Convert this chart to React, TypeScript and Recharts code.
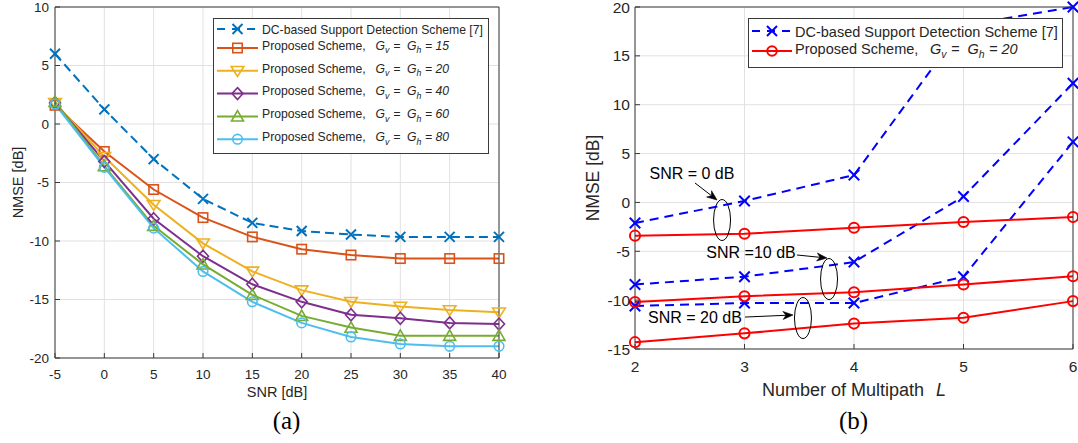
import React from 'react';
import {
  LineChart,
  Line,
  XAxis,
  YAxis,
  CartesianGrid,
  Legend,
  Label,
  ReferenceDot,
  ReferenceLine,
} from 'recharts';

// ---------- Chart (a) data ----------
const snr = [-5, 0, 5, 10, 15, 20, 25, 30, 35, 40];
const dcScheme = [6.0, 1.25, -3.0, -6.4, -8.45, -9.15, -9.45, -9.65, -9.65, -9.65];
const gh15 = [1.6, -2.35, -5.6, -8.0, -9.65, -10.7, -11.2, -11.5, -11.5, -11.5];
const gh20 = [1.8, -2.8, -6.9, -10.2, -12.6, -14.2, -15.2, -15.6, -15.9, -16.1];
const gh40 = [1.8, -3.2, -8.1, -11.3, -13.7, -15.2, -16.3, -16.6, -17.0, -17.1];
const gh60 = [1.9, -3.6, -8.7, -12.0, -14.6, -16.4, -17.4, -18.1, -18.1, -18.1];
const gh80 = [1.7, -3.7, -8.9, -12.6, -15.2, -17.0, -18.2, -18.8, -19.0, -19.0];
const leftYTicks = [-20, -15, -10, -5, 0, 5, 10];

// ---------- Chart (b) data ----------
const multipath = [2, 3, 4, 5, 6];
const dcSnr0 = [-2.1, 0.15, 2.8, 18.1, 20.0];
const dcSnr10 = [-8.4, -7.6, -6.1, 0.6, 12.2];
const dcSnr20 = [-10.6, -10.3, -10.3, -7.6, 6.2];
const propSnr0 = [-3.4, -3.2, -2.6, -2.0, -1.5];
const propSnr10 = [-10.2, -9.6, -9.2, -8.4, -7.55];
const propSnr20 = [-14.3, -13.4, -12.4, -11.8, -10.1];
const rightYTicks = [-15, -10, -5, 0, 5, 10, 15, 20];

// annotations (data coordinates)
const annoLabels = ['SNR = 0 dB', 'SNR =10 dB', 'SNR = 20 dB'];
const annoTextPos = [
  { x: 2.52, y: 2.4 },
  { x: 3.06, y: -5.69 },
  { x: 2.548, y: -12.34 },
];
const annoArrows = [
  [{ x: 2.548, y: 1.99 }, { x: 2.749, y: 0.25 }],
  [{ x: 3.479, y: -5.38 }, { x: 3.753, y: -5.69 }],
  [{ x: 3.005, y: -11.73 }, { x: 3.443, y: -11.52 }],
];
const annoEllipses = [
  { x: 2.795, y: -1.8 },
  { x: 3.772, y: -7.84 },
  { x: 3.534, y: -11.83 },
];

const FONT = '"Liberation Sans", Arial, Helvetica, sans-serif';
const TXT = '#262626';
const GRID = '#e1e1e1';
const AXIS = '#3a3a3a';

type Kind = 'x' | 'square' | 'tdown' | 'diamond' | 'tup' | 'circle';

const Marker = ({ kind, cx, cy, color, sw = 1.6, big = false }: any) => {
  if (cx == null || cy == null) return null;
  const k = big ? 1.05 : 1;
  switch (kind as Kind) {
    case 'x': {
      const s = 5 * k;
      return (
        <g>
          <line x1={cx - s} y1={cy - s} x2={cx + s} y2={cy + s} stroke={color} strokeWidth={2} />
          <line x1={cx - s} y1={cy + s} x2={cx + s} y2={cy - s} stroke={color} strokeWidth={2} />
        </g>
      );
    }
    case 'square':
      return <rect x={cx - 4.7} y={cy - 4.7} width={9.4} height={9.4} fill="none" stroke={color} strokeWidth={sw} />;
    case 'tdown':
      return (
        <polygon
          points={`${cx - 6.3},${cy - 4.3} ${cx + 6.3},${cy - 4.3} ${cx},${cy + 5.6}`}
          fill="none"
          stroke={color}
          strokeWidth={sw}
        />
      );
    case 'tup':
      return (
        <polygon
          points={`${cx - 6},${cy + 4.6} ${cx + 6},${cy + 4.6} ${cx},${cy - 5.8}`}
          fill="none"
          stroke={color}
          strokeWidth={sw}
        />
      );
    case 'diamond':
      return (
        <polygon
          points={`${cx},${cy - 6} ${cx + 5.5},${cy} ${cx},${cy + 6} ${cx - 5.5},${cy}`}
          fill="none"
          stroke={color}
          strokeWidth={sw}
        />
      );
    case 'circle':
    default:
      return <circle cx={cx} cy={cy} r={4.8 * k} fill="none" stroke={color} strokeWidth={sw} />;
  }
};

const makeDot = (kind: Kind, color: string, sw = 1.6, big = false) => (p: any) => (
  <g key={`d-${kind}-${color}-${p.index}`}>
    <Marker kind={kind} cx={p.cx} cy={p.cy} color={color} sw={sw} big={big} />
  </g>
);

// ---------- series config (a) ----------
const leftSeries = [
  { key: 'dc', color: '#0072BD', kind: 'x' as Kind, dash: '9 5', g: '' },
  { key: 'g15', color: '#D95319', kind: 'square' as Kind, dash: undefined, g: '15' },
  { key: 'g20', color: '#EDB120', kind: 'tdown' as Kind, dash: undefined, g: '20' },
  { key: 'g40', color: '#7E2F8E', kind: 'diamond' as Kind, dash: undefined, g: '40' },
  { key: 'g60', color: '#77AC30', kind: 'tup' as Kind, dash: undefined, g: '60' },
  { key: 'g80', color: '#4DBEEE', kind: 'circle' as Kind, dash: undefined, g: '80' },
];

const leftRows = snr.map((s, i) => ({
  snr: s,
  dc: dcScheme[i],
  g15: gh15[i],
  g20: gh20[i],
  g40: gh40[i],
  g60: gh60[i],
  g80: gh80[i],
}));

const rightRows = multipath.map((l, i) => ({
  L: l,
  dc0: dcSnr0[i],
  dc10: dcSnr10[i],
  dc20: dcSnr20[i],
  p0: propSnr0[i],
  p10: propSnr10[i],
  p20: propSnr20[i],
}));

const GhText = ({ x, y, fs, value }: any) => (
  <text x={x} y={y} fontSize={fs} fontFamily={FONT} fill={TXT}>
    Proposed Scheme,
    <tspan dx={fs * 0.8} fontStyle="italic">G</tspan>
    <tspan fontStyle="italic" fontSize={fs * 0.72} dy={fs * 0.3}>v</tspan>
    <tspan fontStyle="italic" dy={-fs * 0.3} dx={fs * 0.32}>=</tspan>
    <tspan fontStyle="italic" dx={fs * 0.55}>G</tspan>
    <tspan fontStyle="italic" fontSize={fs * 0.72} dy={fs * 0.3}>h</tspan>
    <tspan fontStyle="italic" dy={-fs * 0.3} dx={fs * 0.3}>{`= ${value}`}</tspan>
  </text>
);

const LeftLegend = () => {
  const fs = 12.2;
  return (
    <svg width={276} height={136} style={{ display: 'block' }}>
      <rect x={0.5} y={0.5} width={275} height={135} fill="#fff" stroke={AXIS} strokeWidth={1} />
      {leftSeries.map((s, i) => {
        const y = i === 0 ? 11 : 30 + (i - 1) * 22.8;
        return (
          <g key={s.key}>
            <line
              x1={4}
              y1={y}
              x2={45}
              y2={y}
              stroke={s.color}
              strokeWidth={2}
              strokeDasharray={s.dash ? '8 7' : undefined}
            />
            <Marker kind={s.kind} cx={24.5} cy={y} color={s.color} />
            {i === 0 ? (
              <text x={49} y={y + 4.5} fontSize={fs} fontFamily={FONT} fill={TXT}>
                DC-based Support Detection Scheme [7]
              </text>
            ) : (
              <GhText x={49} y={y + 1.8} fs={fs} value={s.g} />
            )}
          </g>
        );
      })}
    </svg>
  );
};

const RightLegend = () => {
  const fs = 14.5;
  return (
    <svg width={315} height={50} style={{ display: 'block' }}>
      <rect x={0.5} y={0.5} width={314} height={49} fill="#fff" stroke={AXIS} strokeWidth={1} />
      <line x1={4} y1={13} x2={44} y2={13} stroke="#0000FF" strokeWidth={2} strokeDasharray="8 7" />
      <Marker kind="x" cx={24} cy={13} color="#0000FF" />
      <text x={47} y={18.5} fontSize={fs} fontFamily={FONT} fill={TXT}>
        DC-based Support Detection Scheme [7]
      </text>
      <line x1={4} y1={33} x2={44} y2={33} stroke="#FF0000" strokeWidth={2} />
      <Marker kind="circle" cx={24} cy={33} color="#FF0000" sw={2} />
      <GhText x={47} y={36} fs={fs} value="20" />
    </svg>
  );
};

const Arrow = (p: any) => {
  const { x1, y1, x2, y2 } = p;
  if ([x1, y1, x2, y2].some((v) => v == null || isNaN(v))) return null;
  const dx = x2 - x1;
  const dy = y2 - y1;
  const len = Math.sqrt(dx * dx + dy * dy) || 1;
  const ux = dx / len;
  const uy = dy / len;
  const hl = 10;
  const hw = 4;
  const bx = x2 - ux * hl;
  const by = y2 - uy * hl;
  const nx = x2 - ux * hl * 0.7;
  const ny = y2 - uy * hl * 0.7;
  return (
    <g>
      <line x1={x1} y1={y1} x2={nx} y2={ny} stroke="#000" strokeWidth={1} />
      <polygon
        points={`${x2},${y2} ${bx - uy * hw},${by + ux * hw} ${nx},${ny} ${bx + uy * hw},${by - ux * hw}`}
        fill="#000"
        stroke="#000"
        strokeWidth={0.6}
      />
    </g>
  );
};

const tickStyle = (fs: number) => ({ fontSize: fs, fill: TXT, fontFamily: FONT });

const ChartA = () => (
  <LineChart
    width={540}
    height={443}
    data={leftRows}
    margin={{ top: 6, right: 40, bottom: 61, left: 0 }}
  >
    <CartesianGrid stroke={GRID} strokeWidth={1} />
    <XAxis
      dataKey="snr"
      type="number"
      domain={[-5, 40]}
      ticks={snr}
      interval={0}
      height={24}
      tickSize={-5}
      tickMargin={16}
      axisLine={{ stroke: AXIS }}
      tickLine={{ stroke: AXIS }}
      tick={tickStyle(13.5)}
    >
      <Label value="SNR [dB]" position="bottom" offset={5} style={{ fontSize: 14.5, fill: TXT, fontFamily: FONT }} />
    </XAxis>
    <XAxis
      xAxisId="top"
      orientation="top"
      dataKey="snr"
      type="number"
      domain={[-5, 40]}
      ticks={snr}
      interval={0}
      height={1}
      tickSize={-5}
      axisLine={{ stroke: AXIS }}
      tickLine={{ stroke: AXIS }}
      tick={false}
    />
    <YAxis
      type="number"
      domain={[-20, 10]}
      ticks={leftYTicks}
      interval={0}
      width={55}
      tickSize={-5}
      tickMargin={11}
      axisLine={{ stroke: AXIS }}
      tickLine={{ stroke: AXIS }}
      tick={tickStyle(13.5)}
    >
      <Label
        value="NMSE [dB]"
        angle={-90}
        position="insideLeft"
        offset={17.5}
        style={{ fontSize: 14.5, fill: TXT, fontFamily: FONT, textAnchor: 'middle' }}
      />
    </YAxis>
    <YAxis
      yAxisId="right"
      orientation="right"
      type="number"
      domain={[-20, 10]}
      ticks={leftYTicks}
      interval={0}
      width={1}
      tickSize={-5}
      axisLine={{ stroke: AXIS }}
      tickLine={{ stroke: AXIS }}
      tick={false}
    />
    {leftSeries.map((s) => (
      <Line
        key={s.key}
        type="linear"
        dataKey={s.key}
        stroke={s.color}
        strokeWidth={2}
        strokeDasharray={s.dash}
        dot={makeDot(s.kind, s.color)}
        activeDot={false}
        legendType="none"
        isAnimationActive={false}
      />
    ))}
    <Legend
      layout="vertical"
      align="center"
      verticalAlign="middle"
      content={() => <LeftLegend />}
      wrapperStyle={{ position: 'absolute', left: 213, top: 18, width: 276, height: 136 }}
    />
  </LineChart>
);

const rightSeries = [
  { key: 'dc0', color: '#0000FF', kind: 'x' as Kind, dash: '9 6' },
  { key: 'dc10', color: '#0000FF', kind: 'x' as Kind, dash: '9 6' },
  { key: 'dc20', color: '#0000FF', kind: 'x' as Kind, dash: '9 6' },
  { key: 'p0', color: '#FF0000', kind: 'circle' as Kind, dash: undefined },
  { key: 'p10', color: '#FF0000', kind: 'circle' as Kind, dash: undefined },
  { key: 'p20', color: '#FF0000', kind: 'circle' as Kind, dash: undefined },
];

const ChartB = () => (
  <LineChart
    width={518}
    height={443}
    data={rightRows}
    margin={{ top: 6, right: 4, bottom: 66, left: 0 }}
  >
    <CartesianGrid stroke={GRID} strokeWidth={1} />
    <XAxis
      dataKey="L"
      type="number"
      domain={[2, 6]}
      ticks={multipath}
      interval={0}
      height={28}
      tickSize={-5}
      tickMargin={17}
      axisLine={{ stroke: AXIS }}
      tickLine={{ stroke: AXIS }}
      tick={tickStyle(15.5)}
    >
      <Label
        content={(p: any) => {
          const vb = p.viewBox || { x: 75, y: 349, width: 438, height: 28 };
          return (
            <text
              x={vb.x + vb.width / 2}
              y={vb.y + vb.height + 19}
              textAnchor="middle"
              fontSize={18}
              fontFamily={FONT}
              fill={TXT}
            >
              Number of Multipath
              <tspan dx={12} fontStyle="italic">L</tspan>
            </text>
          );
        }}
      />
    </XAxis>
    <XAxis
      xAxisId="top"
      orientation="top"
      dataKey="L"
      type="number"
      domain={[2, 6]}
      ticks={multipath}
      interval={0}
      height={1}
      tickSize={-5}
      axisLine={{ stroke: AXIS }}
      tickLine={{ stroke: AXIS }}
      tick={false}
    />
    <YAxis
      type="number"
      domain={[-15, 20]}
      ticks={rightYTicks}
      interval={0}
      width={75}
      tickSize={-5}
      tickMargin={10}
      axisLine={{ stroke: AXIS }}
      tickLine={{ stroke: AXIS }}
      tick={tickStyle(15.5)}
    >
      <Label
        value="NMSE [dB]"
        angle={-90}
        position="insideLeft"
        offset={33}
        style={{ fontSize: 17.5, fill: TXT, fontFamily: FONT, textAnchor: 'middle' }}
      />
    </YAxis>
    <YAxis
      yAxisId="right"
      orientation="right"
      type="number"
      domain={[-15, 20]}
      ticks={rightYTicks}
      interval={0}
      width={1}
      tickSize={-5}
      axisLine={{ stroke: AXIS }}
      tickLine={{ stroke: AXIS }}
      tick={false}
    />
    {rightSeries.map((s) => (
      <Line
        key={s.key}
        type="linear"
        dataKey={s.key}
        stroke={s.color}
        strokeWidth={2}
        strokeDasharray={s.dash}
        dot={makeDot(s.kind, s.color, 2, true)}
        activeDot={false}
        legendType="none"
        isAnimationActive={false}
      />
    ))}
    {annoEllipses.map((e, i) => (
      <ReferenceDot
        key={`el-${i}`}
        x={e.x}
        y={e.y}
        r={1}
        shape={(p: any) => (
          <ellipse cx={p.cx} cy={p.cy} rx={8.5} ry={20.5} fill="none" stroke="#000" strokeWidth={1} />
        )}
      />
    ))}
    {annoArrows.map((seg, i) => (
      <ReferenceLine key={`ar-${i}`} segment={seg} shape={(p: any) => <Arrow {...p} />} />
    ))}
    {annoTextPos.map((t, i) => (
      <ReferenceDot
        key={`tx-${i}`}
        x={t.x}
        y={t.y}
        r={1}
        shape={(p: any) => (
          <text x={p.cx} y={p.cy} textAnchor="middle" fontSize={16} fontFamily={FONT} fill="#000">
            {annoLabels[i]}
          </text>
        )}
      />
    ))}
    <Legend
      layout="vertical"
      align="center"
      verticalAlign="middle"
      content={() => <RightLegend />}
      wrapperStyle={{ position: 'absolute', left: 748 - 560, top: 18, width: 315, height: 50 }}
    />
  </LineChart>
);

export default function App() {
  return (
    <div style={{ position: 'absolute', left: 0, top: 0, width: 1078, height: 443, background: '#fff', overflow: 'hidden' }}>
      <div style={{ position: 'absolute', left: 0, top: 0 }}>
        <ChartA />
      </div>
      <div style={{ position: 'absolute', left: 560, top: 0 }}>
        <ChartB />
      </div>
      <svg width={1078} height={443} style={{ position: 'absolute', left: 0, top: 0, pointerEvents: 'none' }}>
        <text x={286.5} y={429} textAnchor="middle" fontSize={25} fontFamily='"Liberation Serif", "Times New Roman", serif' fill="#000">
          (a)
        </text>
        <text x={853.5} y={429} textAnchor="middle" fontSize={25} fontFamily='"Liberation Serif", "Times New Roman", serif' fill="#000">
          (b)
        </text>
      </svg>
    </div>
  );
}
